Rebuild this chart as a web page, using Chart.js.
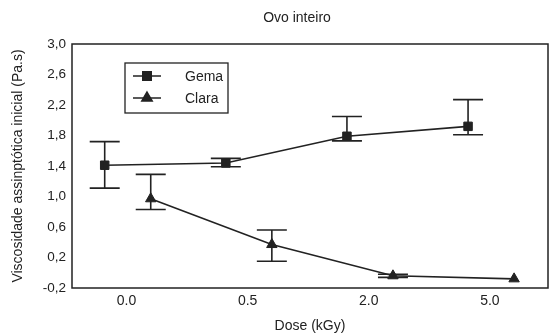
<!DOCTYPE html>
<html>
<head>
<meta charset="utf-8">
<script src="https://cdn.jsdelivr.net/npm/chart.js@4.4.1/dist/chart.umd.min.js"></script>
<style>
  html, body { margin: 0; padding: 0; background: #fff; }
  #wrap { width: 550px; height: 335px; }
</style>
</head>
<body>
<div id="wrap"><canvas id="chart" width="550" height="335"></canvas></div>
<script>
// dose groups (category labels on the x axis)
const doses = ['0.0', '0.5', '2.0', '5.0'];

// Gema (yolk) - mean and error bar limits
const gema = [1.41, 1.44, 1.79, 1.92];
const gemaLow = [1.11, 1.39, 1.73, 1.81];
const gemaHigh = [1.72, 1.50, 2.05, 2.27];

// Clara (white) - mean and error bar limits
const clara = [0.97, 0.37, -0.04, -0.08];
const claraLow = [0.83, 0.15, -0.06, -0.08];
const claraHigh = [1.29, 0.56, -0.02, -0.08];

const yTicks = [-0.2, 0.2, 0.6, 1.0, 1.4, 1.8, 2.2, 2.6, 3.0];

const ink = '#222';
const font = "'Liberation Sans', Arial, sans-serif";

// each series sits a little left / right of its dose group
function toPoints(values, shift){
    return values.map((v, i) => ({ x: i + shift, y: v }));
}

//error bars with caps
const errorBars = {
    id: 'errorBars',
    afterDatasetsDraw(chart) {
        const ctx = chart.ctx;
        const xs = chart.scales.x, ys = chart.scales.y;
        ctx.save();
        ctx.strokeStyle = ink;
        ctx.lineWidth = 1.6;
        chart.data.datasets.forEach(ds => {
            ds.data.forEach((p, i) => {
                const lo = ds.low[i], hi = ds.high[i];
                if (lo === hi) return;
                const x = xs.getPixelForValue(p.x);
                const y1 = ys.getPixelForValue(lo), y2 = ys.getPixelForValue(hi);
                ctx.beginPath();
                ctx.moveTo(x, y1); ctx.lineTo(x, y2);
                ctx.moveTo(x - 15, y1); ctx.lineTo(x + 15, y1);
                ctx.moveTo(x - 15, y2); ctx.lineTo(x + 15, y2);
                ctx.stroke();
            });
        });
        ctx.restore();
    }
};

//frame round the plot, title, legend box inside the plot
const frameAndLegend = {
    id: 'frameAndLegend',
    afterDraw(chart) {
        const ctx = chart.ctx;
        const a = chart.chartArea;
        ctx.save();
        ctx.strokeStyle = ink;
        ctx.lineWidth = 1.5;
        ctx.strokeRect(a.left, a.top, a.right - a.left, a.bottom - a.top);

        ctx.fillStyle = ink;
        ctx.font = '14px ' + font;
        ctx.textAlign = 'center';
        ctx.textBaseline = 'middle';
        ctx.fillText('Ovo inteiro', 297, 18);

        const bx = a.left + 53, by = a.top + 19, bw = 103, bh = 50;
        ctx.lineWidth = 1.3;
        ctx.strokeRect(bx, by, bw, bh);
        ctx.textAlign = 'left';
        chart.data.datasets.forEach((ds, i) => {
            const ly = by + 13 + i * 22;
            ctx.beginPath();
            ctx.lineWidth = 1.5;
            ctx.moveTo(bx + 8, ly); ctx.lineTo(bx + 36, ly);
            ctx.stroke();
            Chart.helpers.drawPoint(ctx, {
                pointStyle: ds.pointStyle, radius: ds.pointRadius, borderWidth: 1
            }, bx + 22, ly);
            ctx.fillText(ds.label, bx + 60, ly + 1);
        });
        ctx.restore();
    }
};

const ctx = document.getElementById('chart').getContext('2d');
const chart = new Chart(ctx, {
    type: 'line',
    data: {
        datasets: [{
            label: 'Gema',
            data: toPoints(gema, -0.18),
            low: gemaLow,
            high: gemaHigh,
            borderColor: ink,
            backgroundColor: ink,
            borderWidth: 1.6,
            pointStyle: 'rect',
            pointRadius: 6,
            pointBorderWidth: 1
        }, {
            label: 'Clara',
            data: toPoints(clara, 0.2),
            low: claraLow,
            high: claraHigh,
            borderColor: ink,
            backgroundColor: ink,
            borderWidth: 1.6,
            pointStyle: 'triangle',
            pointRadius: 6,
            pointBorderWidth: 1
        }]
    },
    options: {
        responsive: false,
        animation: false,
        layout: { autoPadding: false, padding: { top: 44, right: 2, left: 0 } },
        plugins: {
            legend: { display: false },
            tooltip: { enabled: false },
            title: { display: false }
        },
        scales: {
            x: {
                type: 'linear',
                min: -0.45,
                max: 3.48,
                grid: { display: false, drawTicks: false, tickLength: 0 },
                border: { display: false },
                afterBuildTicks: (scale) => {
                    scale.ticks = doses.map((d, i) => ({ value: i }));
                },
                afterFit: (scale) => {
                    scale.height = 47;
                    scale.paddingLeft = 0;
                    scale.paddingRight = 0;
                },
                ticks: {
                    color: ink,
                    padding: 5,
                    font: { family: font, size: 14 },
                    callback: (v) => doses[v]
                },
                title: {
                    display: true,
                    text: 'Dose (kGy)',
                    color: ink,
                    font: { family: font, size: 14 },
                    padding: 0
                }
            },
            y: {
                min: -0.2,
                max: 3.0,
                grid: { display: false, drawTicks: false, tickLength: 0 },
                border: { display: false },
                afterBuildTicks: (scale) => {
                    scale.ticks = yTicks.map(v => ({ value: v }));
                },
                afterFit: (scale) => { scale.width = 72; },
                ticks: {
                    color: ink,
                    padding: 6,
                    font: { family: font, size: 13.5 },
                    callback: (v) => v.toFixed(1).replace('.', ',')
                },
                title: {
                    display: true,
                    text: 'Viscosidade assinptótica inicial (Pa.s)',
                    color: ink,
                    font: { family: font, size: 14 },
                    padding: { top: 10, bottom: 0 }
                }
            }
        }
    },
    plugins: [errorBars, frameAndLegend]
});
</script>
</body>
</html>
